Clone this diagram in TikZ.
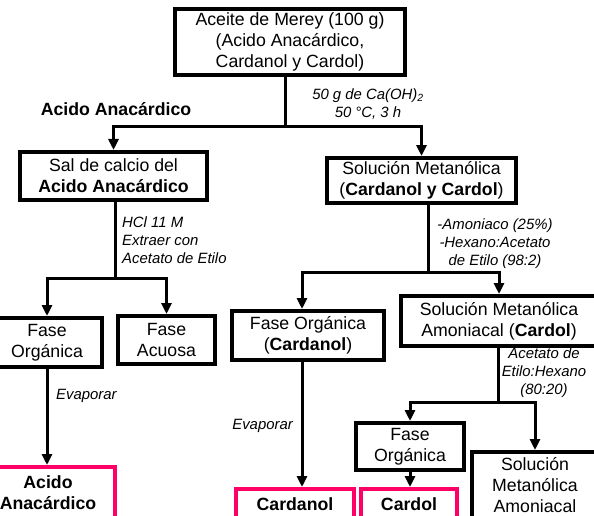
\documentclass[tikz,border=0pt]{standalone}
\usepackage{fontspec}
\setmainfont{Liberation Sans}
\usetikzlibrary{arrows.meta}
\definecolor{pinkc}{RGB}{255,0,102}
\begin{document}
\begin{tikzpicture}[x=1pt,y=-1pt,
 box/.style={draw=black, line width=4pt, align=center, inner sep=0pt, font=\fontsize{17.7}{21}\selectfont},
 pbox/.style={box, draw=pinkc, font=\fontsize{17.7}{21}\selectfont\bfseries},
 lbl/.style={font=\fontsize{14.9}{18}\selectfont\itshape, inner sep=0pt},
 conn/.style={line width=3pt},
 arr/.style={conn, -{Triangle[length=11pt,width=10pt]}}]
\useasboundingbox (0,0) rectangle (594,516);
\clip (0,0) rectangle (594,516);

% nodes
\node[box, minimum width=230pt, minimum height=66pt] (top) at (290,42) {Aceite de Merey (100 g)\\(Acido Anacárdico,\\Cardanol y Cardol)};
\node[font=\fontsize{17.7}{21}\selectfont\bfseries, inner sep=0pt] (acl) at (116,109) {Acido Anacárdico};
\node[lbl, align=center] (l1) at (368,104) {50 g de Ca(OH)\textsubscript{2}\\50 °C, 3 h};

\node[box, minimum width=187pt, minimum height=48pt] (sal) at (113.5,176) {Sal de calcio del\\\textbf{Acido Anacárdico}};
\node[box, minimum width=189pt, minimum height=45pt] (sol) at (421.5,180.5) {Solución Metanólica\\(\textbf{Cardanol y Cardol})};

\node[lbl, align=left, anchor=west] (l2) at (122,240) {HCl 11 M\\Extraer con\\Acetato de Etilo};
\node[lbl, align=center] (l3) at (495,243.5) {-Amoniaco (25\%)\\-Hexano:Acetato\\de Etilo (98:2)};

\node[box, minimum width=110pt, minimum height=49pt] (fo1) at (47,342.5) {Fase\\Orgánica};
\node[box, minimum width=97pt, minimum height=48pt] (fa) at (166.5,340) {Fase\\Acuosa};
\node[box, minimum width=152pt, minimum height=49pt] (fo2) at (308,335.5) {Fase Orgánica\\(\textbf{Cardanol})};
\node[box, minimum width=196pt, minimum height=50pt] (sma) at (499,321) {Solución Metanólica\\Amoniacal (\textbf{Cardol})};

\node[lbl, anchor=west] (ev1) at (56,396) {Evaporar};
\node[lbl, anchor=east] (ev2) at (293,426) {Evaporar};
\node[lbl, align=center] (l4) at (544,373) {Acetato de\\Etilo:Hexano\\(80:20)};

\node[box, minimum width=108pt, minimum height=47pt] (fo3) at (410,446.5) {Fase\\Orgánica};
\node[box, minimum width=126pt, minimum height=70pt, text depth=5pt] (smab) at (535,487) {Solución\\Metanólica\\Amoniacal};

\node[pbox, minimum width=134pt, minimum height=52pt] (aa) at (48,493) {Acido\\Anacárdico};
\node[pbox, minimum width=118pt, minimum height=30pt] (cn) at (295,504) {Cardanol};
\node[pbox, minimum width=96pt, minimum height=30pt] (cd) at (409,504) {Cardol};

% junctions
\coordinate (j1) at (285,127);
\coordinate (j2) at (115,278);
\coordinate (j3) at (428,272);
\coordinate (j3l) at (302,272);
\coordinate (j4) at (498,402);

% connectors
\draw[conn] (top.south -| j1) -- (j1);
\draw[arr] (j1) -| (sal);
\draw[arr] (j1) -| (sol);

\draw[conn] (sal.south -| j2) -- (j2);
\draw[arr] (j2) -| (fo1);
\draw[arr] (j2) -| (fa);
\draw[arr] (fo1.south) -- (fo1.south |- aa.north);

\draw[conn] (sol.south -| j3) -- (j3);
\draw[arr] (j3) -| (fo2.north -| j3l);
\draw[arr] (j3) -| (sma);
\draw[arr] (fo2.south -| j3l) -- (cn.north -| j3l);

\draw[conn] (sma.south -| j4) -- (j4);
\draw[arr] (j4) -| (fo3);
\draw[arr] (j4) -| (smab);
\draw[arr] (fo3.south) -- (fo3.south |- cd.north);
\end{tikzpicture}
\end{document}
